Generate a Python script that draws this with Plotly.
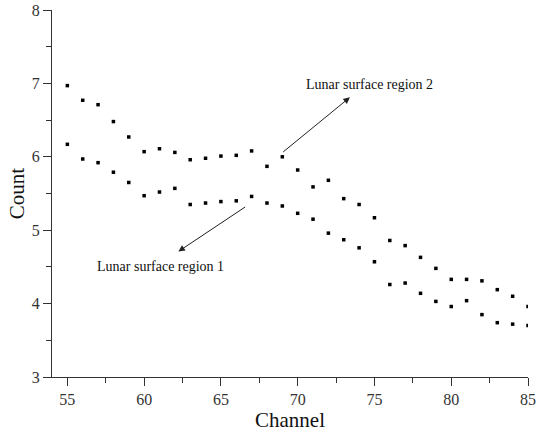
import plotly.graph_objects as go

channels = list(range(55, 86))
region2 = [6.97, 6.77, 6.71, 6.48, 6.27, 6.07, 6.11, 6.06, 5.96, 5.98, 6.01, 6.02, 6.08,
           5.87, 6.00, 5.82, 5.59, 5.68, 5.43, 5.35, 5.17, 4.86, 4.79, 4.63, 4.48, 4.33,
           4.33, 4.31, 4.19, 4.10, 3.96]
region1 = [6.17, 5.97, 5.92, 5.79, 5.65, 5.47, 5.52, 5.57, 5.35, 5.37, 5.39, 5.40, 5.46,
           5.37, 5.33, 5.23, 5.15, 4.96, 4.87, 4.76, 4.57, 4.26, 4.28, 4.14, 4.03, 3.96,
           4.04, 3.85, 3.74, 3.72, 3.70]
label1 = "Lunar surface region 1"
label2 = "Lunar surface region 2"

font = "Liberation Serif"
fig = go.Figure()
for ys in (region2, region1):
    fig.add_trace(go.Scatter(x=channels, y=ys, mode="markers",
                             marker=dict(symbol="square", size=3.5, color="black"),
                             showlegend=False, hoverinfo="skip"))

# arrows
fig.add_annotation(x=73.4, y=6.81, ax=68.96, ay=6.05, xref="x", yref="y", axref="x", ayref="y",
                   showarrow=True, arrowhead=2, arrowsize=1.3, arrowwidth=1, arrowcolor="#222", text="")
fig.add_annotation(x=62.23, y=4.71, ax=66.68, ay=5.33, xref="x", yref="y", axref="x", ayref="y",
                   showarrow=True, arrowhead=2, arrowsize=1.3, arrowwidth=1, arrowcolor="#222", text="")
fig.add_annotation(x=74.7, y=6.99, text=label2, showarrow=False,
                   font=dict(family=font, size=14, color="#111"))
fig.add_annotation(x=61.07, y=4.50, text=label1, showarrow=False,
                   font=dict(family=font, size=14, color="#111"))

axis_common = dict(showline=True, linecolor="#333", linewidth=1, showgrid=False, zeroline=False,
                   ticks="outside", ticklen=8, tickcolor="#333", tickwidth=1, automargin=False,
                   tickfont=dict(family=font, size=16, color="#333"))
fig.update_xaxes(range=[54, 85], dtick=5, tick0=55,
                 minor=dict(dtick=2.5, tick0=55, ticks="outside", ticklen=5, tickcolor="#333"),
                 title=dict(text="Channel", font=dict(family=font, size=21, color="#111"), standoff=2),
                 **axis_common)
fig.update_yaxes(range=[3, 8], dtick=1,
                 minor=dict(dtick=0.5, ticks="outside", ticklen=5, tickcolor="#333"),
                 title=dict(text="Count", font=dict(family=font, size=21, color="#111"), standoff=1),
                 **axis_common)
fig.update_layout(width=543, height=432, margin=dict(l=52, r=15, t=10, b=55),
                  plot_bgcolor="white", paper_bgcolor="white")
fig.write_html("out.html")
